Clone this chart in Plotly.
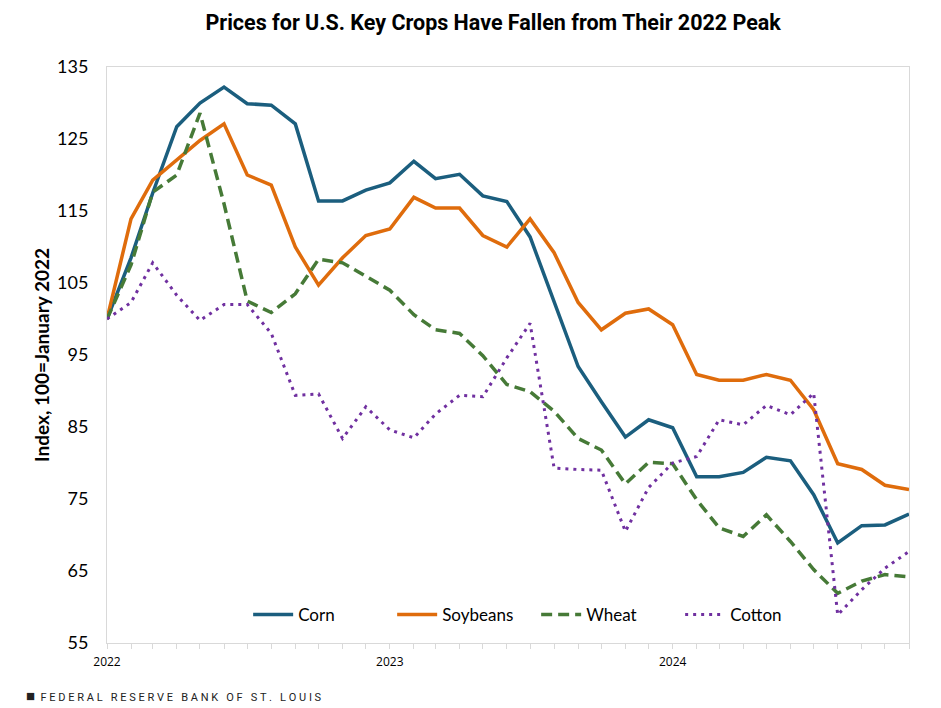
"""Key crop price index chart (Jan 2022 = 100)."""
import pandas as pd
import plotly.graph_objects as go

# ── Data ─────────────────────────────────────────────────────────────────────
months = pd.date_range("2022-01-01", "2024-11-01", freq="MS")

corn = [100.0, 108.5, 117.5, 126.7, 130.0, 132.2, 129.9, 129.7, 127.1, 116.4,
        116.4, 117.9, 118.9, 121.9, 119.5, 120.1, 117.1, 116.3, 111.4, 102.4,
        93.4, 88.5, 83.6, 86.0, 84.9, 78.1, 78.1, 78.7, 80.8, 80.3,
        75.6, 68.9, 71.3, 71.4, 72.9]
soybeans = [100.0, 113.9, 119.3, 122.1, 124.8, 127.1, 120.0, 118.6, 110.0, 104.7,
            108.5, 111.6, 112.5, 116.9, 115.4, 115.4, 111.6, 110.0, 113.9, 109.2,
            102.3, 98.5, 100.8, 101.4, 99.2, 92.3, 91.5, 91.5, 92.3, 91.5,
            87.4, 79.9, 79.1, 76.9, 76.3]
wheat = [100.0, 107.5, 117.6, 120.0, 128.6, 116.0, 102.5, 100.9, 103.5, 108.3,
         107.8, 105.9, 104.0, 100.6, 98.5, 98.0, 94.9, 90.9, 89.9, 87.2,
         83.4, 81.8, 77.1, 80.1, 79.9, 74.9, 71.0, 69.8, 72.8, 69.1,
         65.2, 61.9, 63.6, 64.5, 64.2]
cotton = [100.0, 102.3, 107.8, 103.3, 99.8, 102.0, 102.0, 98.0, 89.4, 89.6,
          83.4, 87.8, 84.6, 83.5, 86.8, 89.4, 89.2, 94.6, 99.4, 79.3,
          79.1, 79.0, 70.5, 76.6, 80.0, 80.9, 86.0, 85.3, 88.0, 86.7,
          89.7, 58.9, 62.4, 65.4, 67.7]

y_ticks = [55, 65, 75, 85, 95, 105, 115, 125, 135]
x_tick_text = [str(m.year) if m.month == 1 else "" for m in months]

series = [
    ("Corn", corn, "#1b5e7e", "solid", 3.5),
    ("Soybeans", soybeans, "#df6c0c", "solid", 3.5),
    ("Wheat", wheat, "#467a37", "11px,6px", 3.5),
    ("Cotton", cotton, "#7030a0", "3px,5px", 3),
]

# ── Figure ───────────────────────────────────────────────────────────────────
# page body has an 8px margin, so the figure is 8px smaller than the window
fig = go.Figure()
for name, vals, color, dash, width in series:
    fig.add_trace(go.Scatter(
        x=months, y=vals, mode="lines", name=name,
        line=dict(color=color, dash=dash, width=width),
    ))

fig.update_layout(
    width=933, height=700,
    paper_bgcolor="white", plot_bgcolor="white",
    margin=dict(l=99, r=32, t=59, b=65),
    font=dict(family="Lato, Open Sans, sans-serif", color="black"),
    title=dict(
        text="<b>Prices for U.S. Key Crops Have Fallen from Their 2022 Peak</b>",
        x=0.52, xanchor="center", y=0.98, yanchor="middle",
        font=dict(family="Roboto, Arial, sans-serif", size=21.5, color="black"),
    ),
    showlegend=True,
    legend=dict(
        orientation="h", x=0.176, xanchor="left", y=0.0486, yanchor="middle",
        bgcolor="rgba(0,0,0,0)", font=dict(size=17),
        entrywidth=89, itemwidth=40,
    ),
)

fig.update_xaxes(
    tickmode="array", tickvals=months, ticktext=x_tick_text,
    range=[months[0], months[-1]],
    ticks="outside", ticklen=5, tickcolor="#d9d9d9", ticklabelstandoff=3,
    tickfont=dict(size=12, family="Open Sans, sans-serif"),
    showline=True, linecolor="#d9d9d9", linewidth=1, mirror=True,
    showgrid=False, zeroline=False, automargin=False,
)
fig.update_yaxes(
    range=[55, 135], tickmode="array", tickvals=y_ticks,
    tickfont=dict(size=18), ticks="", ticklabelstandoff=14,
    showline=True, linecolor="#d9d9d9", linewidth=1, mirror=True,
    showgrid=False, zeroline=False, automargin=False,
    title=dict(text="<b>Index, 100=January 2022</b>", font=dict(size=19), standoff=2),
)

fig.add_annotation(
    xref="paper", yref="paper", x=-0.1035, y=-0.092, xanchor="left", yanchor="middle",
    text=("<span style='font-size:15px'>■</span>  "
          "F E D E R A L   R E S E R V E   B A N K   O F   S T .   L O U I S"),
    showarrow=False,
    font=dict(family="Roboto, Arial, sans-serif", size=11, color="#222222"),
)

fig.write_html("out.html")
